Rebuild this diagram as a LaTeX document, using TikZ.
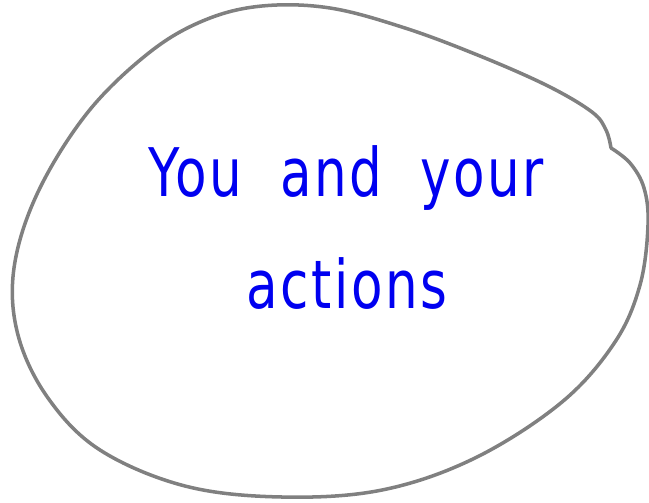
\documentclass[tikz,border=0pt]{standalone}
\usepackage{fontspec}
\newfontfamily\handfont[LetterSpace=5,WordSpace=2]{DejaVu Sans}
\definecolor{penblue}{RGB}{0,0,240}
\definecolor{pengray}{RGB}{128,128,128}

\begin{document}
\begin{tikzpicture}[x=0.03cm,y=-0.03cm]
\tikzset{handtext/.style={text=penblue,font=\handfont\fontsize{44}{50}\selectfont,inner sep=0pt,anchor=base,yscale=1.3}}
\useasboundingbox (0,0) rectangle (649,502);

% The blob (with its small kink on the upper right)
\draw[pengray,line width=3pt,line cap=round,line join=round]
  plot[smooth,tension=0.6] coordinates {(611,148) (630,163) (644,188) (648,225)
  (640,285) (615,342) (562,402) (475,458) (382,490) (282,497) (185,486)
  (100,450) (48,398) (18,335) (14,268) (38,192) (88,112) (150,52) (205,20)
  (262,6) (330,8) (405,28) (480,56) (548,86) (592,112) (606,130) (611,148)};

% Labels
\node[handtext] (you) at (346,196) {You and your};
\node[handtext] (act) at (347,308) {actions};
\end{tikzpicture}
\end{document}
